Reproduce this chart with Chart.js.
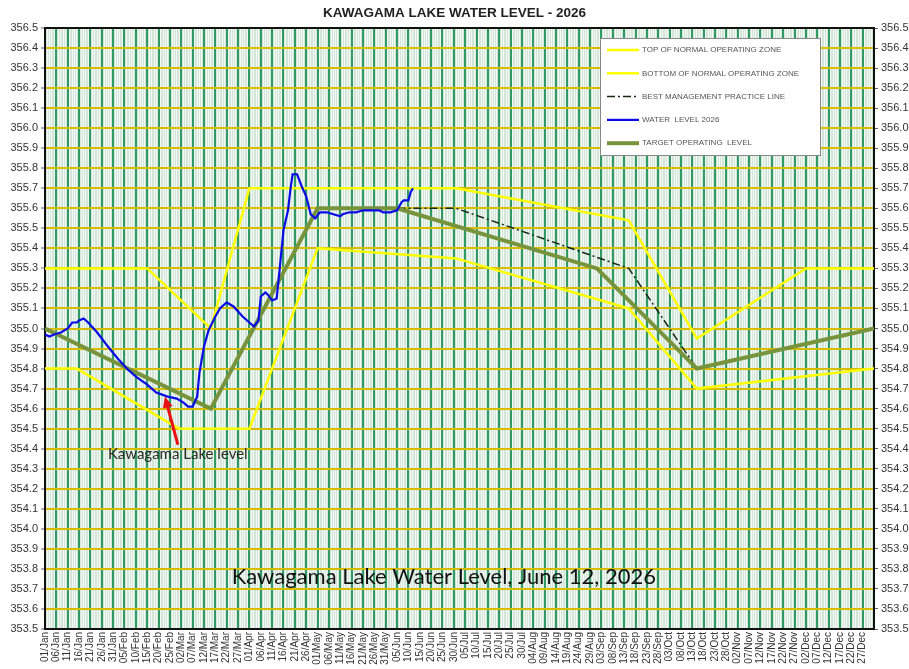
<!DOCTYPE html>
<html>
<head>
<meta charset="utf-8">
<title>Kawagama Lake Water Level - 2026</title>
<script src="https://cdn.jsdelivr.net/npm/chart.js@4.4.1/dist/chart.umd.min.js"></script>
<style>
  body { margin: 0; background: #fff; }
</style>
</head>
<body>
<canvas id="myChart" width="909" height="669"></canvas>
<script>
// x values are day of year, 0 = 01/Jan
const monthNames = ['Jan','Feb','Mar','Apr','May','Jun','Jul','Aug','Sep','Oct','Nov','Dec'];

const topDays   = [0, 45, 73, 90, 181, 257, 287, 335, 365];
const topLevels = [355.3, 355.3, 355.0, 355.7, 355.7, 355.54, 354.95, 355.3, 355.3];

const bottomDays   = [0, 14, 59, 90, 120, 181, 257, 287, 365];
const bottomLevels = [354.8, 354.8, 354.5, 354.5, 355.4, 355.35, 355.1, 354.7, 354.8];

const bmpDays   = [120, 181, 257, 287];
const bmpLevels = [355.6, 355.6, 355.3, 354.8];

const targetDays   = [0, 73, 120, 155, 243, 287, 365];
const targetLevels = [355.0, 354.6, 355.6, 355.6, 355.3, 354.8, 355.0];

// water level 2026
const levelDays = [0, 2, 4, 7, 10, 12, 14, 15, 17, 19, 23, 27, 32, 36, 40, 45, 49, 54, 58, 61, 63, 65,
  67, 68, 70, 72, 75, 77, 80, 83, 87, 90, 92, 94, 95, 97, 98, 100, 102, 103, 105, 106, 107, 108,
  109, 111, 113, 115, 117, 119, 121, 124, 127, 130, 131, 134, 137, 140, 144, 147, 149, 152, 155,
  157, 158, 160, 161, 162];
const levelValues = [354.97, 354.96, 354.97, 354.98, 355.00, 355.03, 355.03, 355.04, 355.05, 355.03,
  354.98, 354.92, 354.85, 354.80, 354.76, 354.72, 354.68, 354.66, 354.65, 354.63, 354.61, 354.61,
  354.66, 354.78, 354.91, 354.99, 355.06, 355.10, 355.13, 355.11, 355.06, 355.03, 355.01, 355.04,
  355.16, 355.18, 355.17, 355.14, 355.15, 355.26, 355.49, 355.54, 355.59, 355.69, 355.77, 355.77,
  355.71, 355.66, 355.57, 355.55, 355.58, 355.58, 355.57, 355.56, 355.57, 355.58, 355.58, 355.59,
  355.59, 355.59, 355.58, 355.58, 355.59, 355.63, 355.64, 355.64, 355.68, 355.70];

function pts(days, vals) {
    return days.map((d, i) => ({x: d, y: vals[i]}));
}

function dayLabel(day) {
    const dt = new Date(2026, 0, 1 + day);
    const dd = String(dt.getDate()).padStart(2, '0');
    return dd + '/' + monthNames[dt.getMonth()];
}

const axisFont = {family: 'Liberation Sans, Arial, sans-serif', size: 11};

// plot background + frame
const frame = {
    id: 'frame',
    beforeDraw(chart) {
        const a = chart.chartArea, ctx = chart.ctx;
        ctx.save();
        ctx.fillStyle = '#d2e5d8';
        ctx.fillRect(a.left, a.top, a.right - a.left, a.bottom - a.top);
        ctx.restore();
    },
    beforeDatasetsDraw(chart) {
        const a = chart.chartArea, ctx = chart.ctx;
        ctx.save();
        ctx.strokeStyle = '#111';
        ctx.lineWidth = 2;
        ctx.strokeRect(a.left, a.top, a.right - a.left, a.bottom - a.top);
        ctx.restore();
    }
};

// legend box inside the plot + notes
const notes = {
    id: 'notes',
    afterDatasetsDraw(chart) {
        const ctx = chart.ctx;
        const x = chart.scales.x, y = chart.scales.y;
        ctx.save();

        // legend
        ctx.fillStyle = '#fff';
        ctx.fillRect(600, 38, 220, 117);
        ctx.strokeStyle = '#888';
        ctx.lineWidth = 1;
        ctx.strokeRect(600.5, 38.5, 220, 117);
        ctx.font = '8px Liberation Sans, Arial, sans-serif';
        ctx.textBaseline = 'middle';
        chart.data.datasets.forEach((ds, i) => {
            const ly = 50 + i * 23.3;
            ctx.strokeStyle = ds.borderColor;
            ctx.lineWidth = ds.borderWidth;
            ctx.setLineDash(ds.borderDash || []);
            ctx.beginPath();
            ctx.moveTo(607, ly);
            ctx.lineTo(639, ly);
            ctx.stroke();
            ctx.setLineDash([]);
            ctx.fillStyle = '#555';
            ctx.fillText(ds.label, 642, ly);
        });

        // arrow to the water level line
        const tx = x.getPixelForValue(58.5), ty = y.getPixelForValue(354.42);
        const hx = x.getPixelForValue(52.8), hy = y.getPixelForValue(354.66);
        const ang = Math.atan2(hy - ty, hx - tx);
        ctx.strokeStyle = '#e81010';
        ctx.fillStyle = '#e81010';
        ctx.lineWidth = 3;
        ctx.beginPath();
        ctx.moveTo(tx, ty);
        ctx.lineTo(hx - 8 * Math.cos(ang), hy - 8 * Math.sin(ang));
        ctx.stroke();
        ctx.beginPath();
        ctx.moveTo(hx, hy);
        ctx.lineTo(hx - 11 * Math.cos(ang) + 5 * Math.sin(ang), hy - 11 * Math.sin(ang) - 5 * Math.cos(ang));
        ctx.lineTo(hx - 11 * Math.cos(ang) - 5 * Math.sin(ang), hy - 11 * Math.sin(ang) + 5 * Math.cos(ang));
        ctx.closePath();
        ctx.fill();

        ctx.fillStyle = '#2b2b24';
        ctx.textBaseline = 'middle';
        ctx.textAlign = 'left';
        ctx.font = '15px Lato, sans-serif';
        ctx.fillText('Kawagama Lake level', x.getPixelForValue(27.7), y.getPixelForValue(354.373));

        ctx.fillStyle = '#111';
        ctx.textAlign = 'center';
        ctx.font = '22px Lato, sans-serif';
        ctx.fillText('Kawagama Lake Water Level, June 12, 2026', x.getPixelForValue(175.6), y.getPixelForValue(353.76));
        ctx.restore();
    }
};

const ctx = document.getElementById('myChart');

const myChart = new Chart(ctx, {
    type: 'line',
    data: {
        datasets: [{
            label: 'TOP OF NORMAL OPERATING ZONE',
            data: pts(topDays, topLevels),
            borderColor: '#ffff00',
            borderWidth: 2.5,
            order: 5
        },
        {
            label: 'BOTTOM OF NORMAL OPERATING ZONE',
            data: pts(bottomDays, bottomLevels),
            borderColor: '#ffff00',
            borderWidth: 2.5,
            order: 4
        },
        {
            label: 'BEST MANAGEMENT PRACTICE LINE',
            data: pts(bmpDays, bmpLevels),
            borderColor: '#142814',
            borderWidth: 1.5,
            borderDash: [8, 3, 2, 3],
            order: 3
        },
        {
            label: 'WATER  LEVEL 2026',
            data: pts(levelDays, levelValues),
            borderColor: '#0a0ae6',
            borderWidth: 2.2,
            order: 1
        },
        {
            label: 'TARGET OPERATING  LEVEL',
            data: pts(targetDays, targetLevels),
            borderColor: '#77933c',
            borderWidth: 4,
            order: 2
        }]
    },
    options: {
        responsive: false,
        animation: false,
        elements: {
            point: { radius: 0 },
            line: { tension: 0, fill: false }
        },
        layout: { padding: 0 },
        scales: {
            x: {
                type: 'linear',
                min: 0,
                max: 365,
                afterFit: s => { s.height = 40; },
                grid: {
                    z: -2,
                    drawTicks: false,
                    color: c => (c.tick && c.tick.value % 5 === 0) ? '#2f9a62' : '#f5f9f6',
                    lineWidth: c => (c.tick && c.tick.value % 5 === 0) ? 2 : 1
                },
                border: { display: false },
                ticks: {
                    stepSize: 1,
                    autoSkip: false,
                    minRotation: 90,
                    maxRotation: 90,
                    padding: 3,
                    color: '#333',
                    font: {family: 'Liberation Sans, Arial, sans-serif', size: 10},
                    callback: v => (v % 5 === 0 && v < 365) ? dayLabel(v) : ''
                }
            },
            y: {
                position: 'left',
                min: 353.5,
                max: 356.5,
                afterFit: s => { s.width = 45; },
                grid: {
                    z: -1,
                    color: '#d8bc00',
                    lineWidth: 2,
                    tickColor: '#666',
                    tickLength: 4,
                    tickWidth: 1
                },
                border: { display: false },
                ticks: {
                    stepSize: 0.1,
                    padding: 3,
                    color: '#333',
                    font: axisFont,
                    callback: v => v.toFixed(1)
                }
            },
            y2: {
                position: 'right',
                min: 353.5,
                max: 356.5,
                afterFit: s => { s.width = 35; },
                grid: {
                    drawOnChartArea: false,
                    tickColor: '#666',
                    tickLength: 4,
                    tickWidth: 1
                },
                border: { display: false },
                ticks: {
                    stepSize: 0.1,
                    padding: 3,
                    color: '#333',
                    font: axisFont,
                    callback: v => v.toFixed(1)
                }
            }
        },
        plugins: {
            title: {
                display: true,
                text: 'KAWAGAMA LAKE WATER LEVEL - 2026',
                color: '#222',
                font: {family: 'Liberation Sans, Arial, sans-serif', size: 13.5, weight: 'bold'},
                padding: { top: 5, bottom: 6.8 }
            },
            legend: { display: false },
            tooltip: { enabled: false }
        }
    },
    plugins: [frame, notes]
});
</script>
</body>
</html>
